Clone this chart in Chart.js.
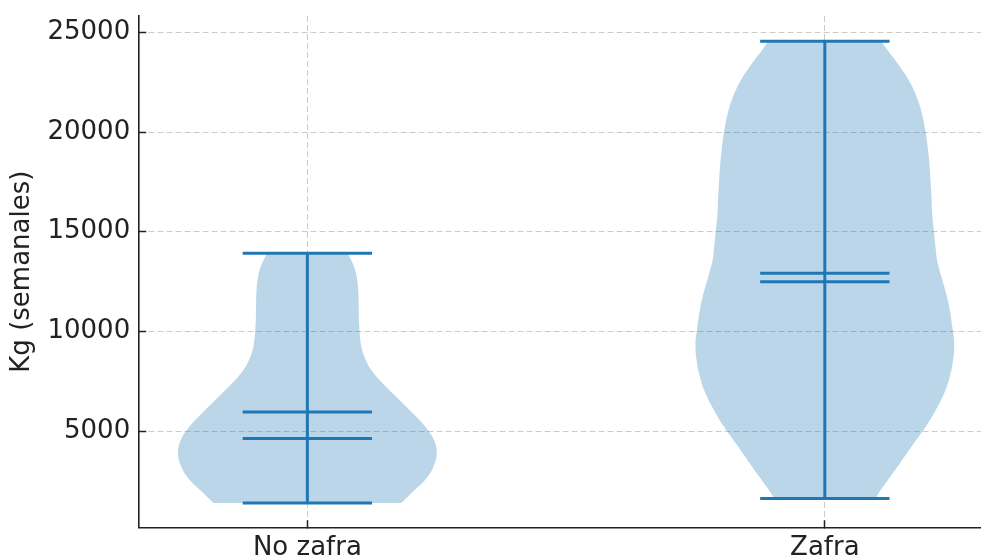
<!DOCTYPE html>
<html>
<head>
<meta charset="utf-8">
<script src="https://cdn.jsdelivr.net/npm/chart.js@4/dist/chart.umd.min.js"></script>
<style>
  html, body { margin: 0; padding: 0; background: #fff; overflow: hidden; }
  #wrap { position: relative; width: 1010px; height: 558px; }
</style>
</head>
<body>
<div id="wrap"><canvas id="chart"></canvas></div>
<script>
// Groups and y-axis ticks
const categories = ['No zafra', 'Zafra'];
const yTicks = [5000, 10000, 15000, 20000, 25000];

// Kernel density outline of each group: weekly kg level and relative width (1 = widest)
const noZafraLevels  = [1390, 1960, 2630, 3290, 3960, 4620, 5290, 5960, 6630, 7290, 7960, 8630, 9290, 10130, 10960, 11790, 12630, 13290, 13920];
const noZafraDensity = [0.727, 0.817, 0.921, 0.98, 1.00, 0.973, 0.903, 0.805, 0.70, 0.597, 0.506, 0.447, 0.416, 0.402, 0.397, 0.395, 0.384, 0.358, 0.311];
const zafraLevels    = [1620, 1870, 2700, 3535, 4370, 5200, 6035, 6870, 7700, 8535, 9370, 10200, 11035, 11870, 12700, 13535, 14200, 15035, 15870, 16700, 17535, 18370, 19200, 20035, 20870, 21700, 22535, 23370, 24035, 24550];
const zafraDensity   = [0.393, 0.415, 0.506, 0.597, 0.687, 0.778, 0.856, 0.921, 0.965, 0.991, 1.00, 0.986, 0.967, 0.939, 0.903, 0.869, 0.856, 0.843, 0.830, 0.825, 0.817, 0.809, 0.796, 0.778, 0.753, 0.714, 0.654, 0.570, 0.493, 0.436];

// Summary statistics per group
const minValues    = [1390, 1620];
const maxValues    = [13920, 24550];
const meanValues   = [5950, 12920];
const medianValues = [4620, 12490];

const BLUE = '#1f77b4';
const BODY = 'rgba(31,119,180,0.3)';
const HALF_WIDTH = 0.25;   // half of the violin width at its widest
const CAP = 0.125;         // half length of the stat lines

// Closed outline: up the left side, across the top, down the right side, across the bottom.
// Corner points are doubled so the flat ends stay straight under bezier smoothing.
function violinOutline(pos, levels, density) {
  const left = levels.map((y, i) => ({ x: pos - HALF_WIDTH * density[i], y }));
  const right = levels.map((y, i) => ({ x: pos + HALF_WIDTH * density[i], y })).reverse();
  const pts = [left[0]].concat(left, [left[left.length - 1]], [right[0]], right, [right[right.length - 1]], [left[0], left[0]]);
  return pts;
}

function hLine(pos, v) {
  return [{ x: pos - CAP, y: v }, { x: pos + CAP, y: v }];
}

const lineStyle = { showLine: true, borderColor: BLUE, borderWidth: 3, pointRadius: 0, fill: false, order: 1, tension: 0 };

const datasets = [];
const bodies = [
  [noZafraLevels, noZafraDensity],
  [zafraLevels, zafraDensity]
];
bodies.forEach(([lv, dn], i) => {
  datasets.push({
    data: violinOutline(i + 1, lv, dn),
    showLine: true,
    borderColor: 'rgba(0,0,0,0)',
    borderWidth: 0,
    backgroundColor: BODY,
    fill: 'shape',
    pointRadius: 0,
    tension: 0.4,
    order: 2
  });
});
categories.forEach((c, i) => {
  const pos = i + 1;
  datasets.push(Object.assign({ data: [{ x: pos, y: minValues[i] }, { x: pos, y: maxValues[i] }] }, lineStyle));
  datasets.push(Object.assign({ data: hLine(pos, minValues[i]) }, lineStyle));
  datasets.push(Object.assign({ data: hLine(pos, maxValues[i]) }, lineStyle));
  datasets.push(Object.assign({ data: hLine(pos, meanValues[i]) }, lineStyle));
  datasets.push(Object.assign({ data: hLine(pos, medianValues[i]) }, lineStyle));
});

const FONT = "'DejaVu Sans', sans-serif";
const TEXT = '#222222';

new Chart(document.getElementById('chart'), {
  type: 'scatter',
  data: { datasets },
  options: {
    responsive: true,
    maintainAspectRatio: false,
    animation: false,
    layout: { padding: { top: 16, right: 17, left: 0, bottom: 0 } },
    plugins: { legend: { display: false }, tooltip: { enabled: false }, title: { display: false } },
    scales: {
      x: {
        type: 'linear',
        min: 0.675,
        max: 2.325,
        afterBuildTicks: (s) => { s.ticks = categories.map((c, i) => ({ value: i + 1 })); },
        afterFit: (s) => { s.height = 30.7; s.paddingLeft = 0; s.paddingRight = 0; },
        ticks: {
          callback: (v) => categories[Math.round(v) - 1] || '',
          font: { family: FONT, size: 26 },
          color: TEXT,
          padding: 12,
          maxRotation: 0
        },
        grid: {
          color: '#cccccc', lineWidth: 1,
          drawTicks: true, tickLength: -7, tickColor: TEXT, tickWidth: 1.5, tickBorderDash: [1, 0]
        },
        border: { display: true, color: TEXT, width: 1.6, dash: [6, 3] }
      },
      y: {
        type: 'linear',
        min: 170,
        max: 25820,
        afterBuildTicks: (s) => { s.ticks = yTicks.map(v => ({ value: v })); },
        afterFit: (s) => { s.width = 139.2; s.paddingTop = 0; s.paddingBottom = 0; },
        ticks: {
          callback: (v) => String(v),
          font: { family: FONT, size: 26 },
          color: TEXT,
          padding: 16
        },
        title: {
          display: true,
          text: 'Kg (semanales)',
          font: { family: FONT, size: 26 },
          color: TEXT,
          padding: { top: 7, bottom: 0 }
        },
        grid: {
          color: '#cccccc', lineWidth: 1,
          drawTicks: true, tickLength: -7, tickColor: TEXT, tickWidth: 1.5, tickBorderDash: [1, 0]
        },
        border: { display: true, color: TEXT, width: 1.6, dash: [6, 3] }
      }
    }
  }
});
</script>
</body>
</html>
